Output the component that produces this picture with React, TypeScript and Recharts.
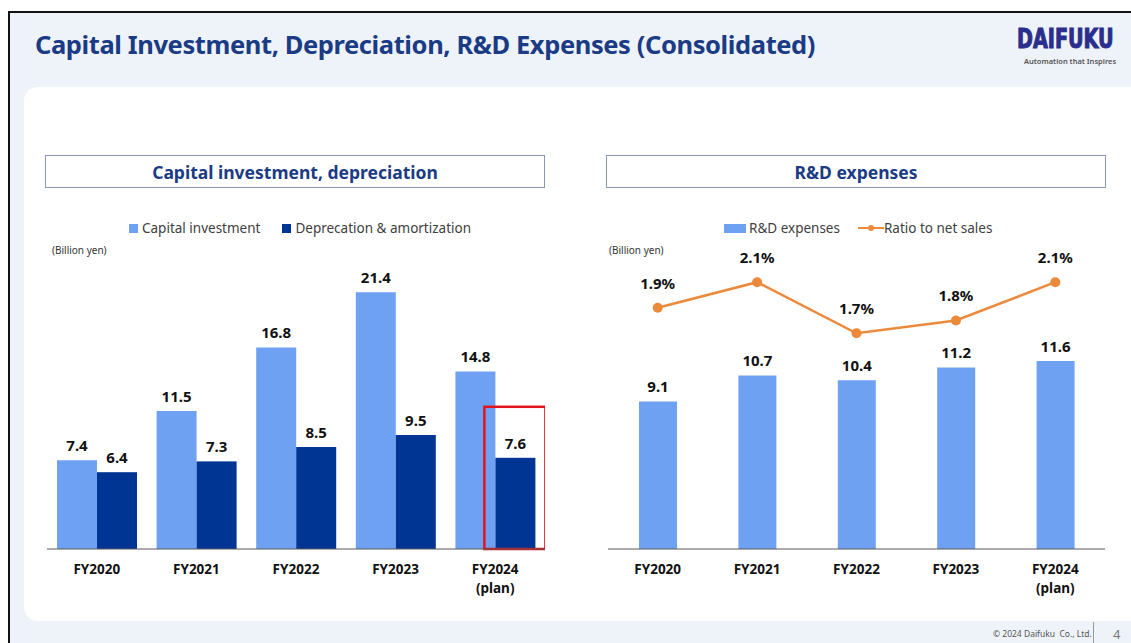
import { BarChart, Bar, XAxis, YAxis, LabelList, ComposedChart, Line } from "recharts";

const categories = ["FY2020", "FY2021", "FY2022", "FY2023", "FY2024"];
const subLabels = ["", "", "", "", "(plan)"];
const capitalInvestment = [7.4, 11.5, 16.8, 21.4, 14.8];
const depreciation = [6.4, 7.3, 8.5, 9.5, 7.6];
const rdExpenses = [9.1, 10.7, 10.4, 11.2, 11.6];
const ratioToSales = [1.9, 2.1, 1.7, 1.8, 2.1];

const LIGHT = "#6FA1F2";
const DARK = "#003594";
const ORANGE = "#EC8A3C";
const NAVY = "#1B3B85";
const FONT = "'Noto Sans', sans-serif";

const leftData = categories.map((c, i) => ({
  name: c,
  capex: capitalInvestment[i],
  depr: depreciation[i],
}));

const rightData = categories.map((c, i) => ({
  name: c,
  rd: rdExpenses[i],
  ratio: ratioToSales[i],
}));

const CategoryTick = (props: any) => {
  const { x, y, payload, index } = props;
  const sub = subLabels[index];
  return (
    <g>
      <text x={x} y={y + 17} textAnchor="middle" fontSize={13.5} fontWeight={700} fill="#111" fontFamily={FONT}>
        {payload.value}
      </text>
      {sub && (
        <text x={x} y={y + 36} textAnchor="middle" fontSize={13.5} fontWeight={700} fill="#111" fontFamily={FONT}>
          {sub}
        </text>
      )}
    </g>
  );
};

// last (plan) depreciation bar gets a red frame
const DeprShape = (props: any) => {
  const { x, y, width, height, index } = props;
  return (
    <g>
      <rect x={x} y={y} width={width} height={height} fill={DARK} />
      {index === categories.length - 1 && (
        <rect x={x - 11} y={y - 51} width={width + 21} height={height + 51} fill="none" stroke="#E1141C" strokeWidth={2.5} />
      )}
    </g>
  );
};

const labelStyle = { fontSize: 15, fontWeight: 700, fill: "#111", fontFamily: FONT };

function TitleBox({ left, text }: { left: number; text: string }) {
  return (
    <div
      style={{
        position: "absolute",
        left,
        top: 155,
        width: 498,
        height: 31,
        border: "1.5px solid #8797B4",
        background: "#fff",
        display: "flex",
        alignItems: "center",
        justifyContent: "center",
        fontFamily: FONT,
        fontWeight: 700,
        fontSize: 17.5,
        color: NAVY,
      }}
    >
      {text}
    </div>
  );
}

export default function App() {
  return (
    <div
      style={{
        position: "fixed",
        left: 0,
        top: 0,
        width: 1131,
        height: 643,
        overflow: "hidden",
        background: "#fff",
        fontFamily: FONT,
      }}
    >
      {/* slide frame */}
      <div
        style={{
          position: "absolute",
          left: 8,
          top: 11,
          width: 1140,
          height: 650,
          borderLeft: "2px solid #111",
          borderTop: "2px solid #111",
          background: "#EEF3FA",
        }}
      />
      <div
        style={{
          position: "absolute",
          left: 24,
          top: 87,
          width: 1130,
          height: 534,
          background: "#fff",
          borderRadius: 14,
        }}
      />
      <div
        style={{
          position: "absolute",
          left: 35,
          top: 27,
          fontSize: 25.5,
          fontWeight: 700,
          color: NAVY,
          letterSpacing: -0.4,
          whiteSpace: "nowrap",
        }}
      >
        Capital Investment, Depreciation, R&amp;D Expenses (Consolidated)
      </div>
      <div
        style={{
          position: "absolute",
          left: 1017,
          top: 24,
          fontSize: 26,
          fontWeight: 700,
          color: "#2A2E8C",
          fontFamily: "'Liberation Sans Narrow', 'DejaVu Sans Condensed', sans-serif",
          WebkitTextStroke: "1px #2A2E8C",
          whiteSpace: "nowrap",
          transform: "scaleX(0.82)",
          transformOrigin: "left top",
        }}
      >
        DAIFUKU
      </div>
      <div style={{ position: "absolute", left: 1024, top: 56, fontSize: 7.5, color: "#555", fontWeight: 600, whiteSpace: "nowrap" }}>
        Automation that Inspires
      </div>

      <TitleBox left={45} text="Capital investment, depreciation" />
      <TitleBox left={606} text="R&D expenses" />

      {/* left legend */}
      <div style={{ position: "absolute", left: 129, top: 219, fontSize: 13.5, color: "#404040", display: "flex", alignItems: "center", whiteSpace: "nowrap" }}>
        <span style={{ width: 9, height: 9, background: LIGHT, marginRight: 4 }} />
        <span style={{ marginRight: 22 }}>Capital investment</span>
        <span style={{ width: 9, height: 9, background: DARK, marginRight: 4 }} />
        <span>Deprecation &amp; amortization</span>
      </div>
      <div style={{ position: "absolute", left: 52, top: 243, fontSize: 10, color: "#333" }}>(Billion yen)</div>

      {/* right legend */}
      <div style={{ position: "absolute", left: 724, top: 219, fontSize: 13.5, color: "#404040", display: "flex", alignItems: "center", whiteSpace: "nowrap" }}>
        <span style={{ width: 22, height: 9, background: LIGHT, marginRight: 3 }} />
        <span style={{ marginRight: 18 }}>R&amp;D expenses</span>
        <svg width={26} height={10}>
          <line x1={0} y1={5} x2={26} y2={5} stroke={ORANGE} strokeWidth={2} />
          <circle cx={13} cy={5} r={3} fill={ORANGE} />
        </svg>
        <span>Ratio to net sales</span>
      </div>
      <div style={{ position: "absolute", left: 609, top: 243, fontSize: 10, color: "#333" }}>(Billion yen)</div>

      {/* left chart */}
      <div style={{ position: "absolute", left: 47, top: 200 }}>
        <BarChart width={498} height={410} data={leftData} margin={{ top: 49, right: 0, bottom: 0, left: 0 }} barGap={0} barSize={40}>
          <XAxis dataKey="name" height={61} tickLine={false} axisLine={{ stroke: "#595959", strokeWidth: 1 }} tick={<CategoryTick />} interval={0} />
          <YAxis hide domain={[0, 25]} />
          <Bar dataKey="capex" fill={LIGHT} isAnimationActive={false}>
            <LabelList dataKey="capex" position="top" offset={9} style={labelStyle} formatter={(v: any) => Number(v).toFixed(1)} />
          </Bar>
          <Bar dataKey="depr" fill={DARK} shape={<DeprShape />} isAnimationActive={false}>
            <LabelList dataKey="depr" position="top" offset={9} style={labelStyle} formatter={(v: any) => Number(v).toFixed(1)} />
          </Bar>
        </BarChart>
      </div>

      {/* right chart */}
      <div style={{ position: "absolute", left: 608, top: 200 }}>
        <ComposedChart width={497} height={410} data={rightData} margin={{ top: 49, right: 0, bottom: 0, left: 0 }}>
          <XAxis dataKey="name" height={61} tickLine={false} axisLine={{ stroke: "#595959", strokeWidth: 1 }} tick={<CategoryTick />} interval={0} />
          <YAxis yAxisId="bar" hide domain={[0, 18.5]} />
          <YAxis yAxisId="ratio" hide orientation="right" domain={[0.01, 2.36]} />
          <Bar yAxisId="bar" dataKey="rd" fill={LIGHT} barSize={38} isAnimationActive={false}>
            <LabelList dataKey="rd" position="top" offset={9} style={labelStyle} formatter={(v: any) => Number(v).toFixed(1)} />
          </Bar>
          <Line
            yAxisId="ratio"
            dataKey="ratio"
            stroke={ORANGE}
            strokeWidth={2.5}
            dot={{ r: 5, fill: ORANGE, stroke: ORANGE, strokeWidth: 0 }}
            isAnimationActive={false}
          >
            <LabelList dataKey="ratio" position="top" offset={19} style={labelStyle} formatter={(v: any) => `${Number(v).toFixed(1)}%`} />
          </Line>
        </ComposedChart>
      </div>

      {/* footer */}
      <div style={{ position: "absolute", left: 993, top: 628, fontSize: 8.5, color: "#555", whiteSpace: "nowrap" }}>© 2024 Daifuku&nbsp; Co., Ltd.</div>
      <div style={{ position: "absolute", left: 1093, top: 622, width: 1, height: 21, background: "#999" }} />
      <div style={{ position: "absolute", left: 1113, top: 625, fontSize: 13, color: "#777" }}>4</div>
    </div>
  );
}
